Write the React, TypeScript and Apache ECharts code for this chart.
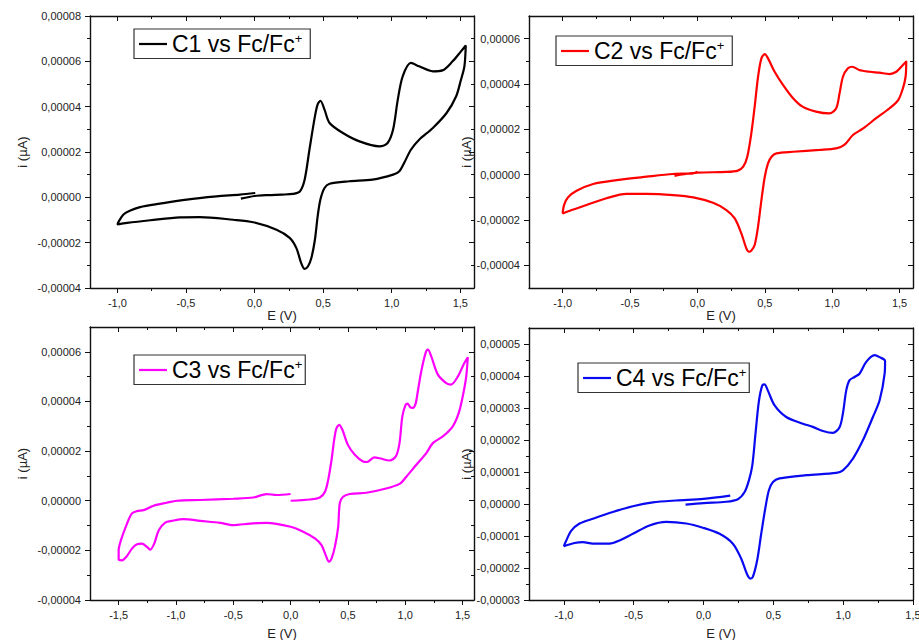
import React, { useEffect, useRef } from "react";
import * as echarts from "echarts";

// Potential E (V) and current i (in units of 1e-5 A)
const c1Scan: [number, number][] = [
  [-0.1, -0.06], [0.0, 0.06], [0.1, 0.1], [0.2, 0.12], [0.28, 0.15], [0.33, 0.26], [0.365, 0.78], [0.4, 2.1],
  [0.44, 3.57], [0.46, 4.1], [0.48, 4.26], [0.51, 3.87], [0.547, 3.28], [0.644, 2.84], [0.765, 2.47], [0.91, 2.25],
  [0.97, 2.4], [1.01, 2.99], [1.044, 4.3], [1.08, 5.34], [1.14, 5.93], [1.2, 5.78], [1.3, 5.56], [1.37, 5.6],
  [1.444, 6.0], [1.505, 6.44], [1.54, 6.7],
  [1.53, 5.78], [1.505, 5.19], [1.47, 4.46], [1.4, 3.72], [1.3, 3.06], [1.2, 2.54], [1.14, 2.1], [1.09, 1.51],
  [1.056, 1.15], [1.01, 1.0], [0.86, 0.78], [0.69, 0.71], [0.547, 0.6], [0.51, 0.41], [0.48, -0.1], [0.46, -0.84],
  [0.44, -1.87], [0.414, -2.68], [0.39, -3.04], [0.365, -3.16], [0.34, -2.9], [0.305, -2.24], [0.256, -1.79],
  [0.16, -1.43], [-0.01, -1.1], [-0.156, -0.99], [-0.4, -0.87], [-0.544, -0.88], [-0.76, -1.01], [-0.93, -1.13],
  [-1.0, -1.2],
  [-0.99, -1.06], [-0.956, -0.76], [-0.91, -0.59], [-0.835, -0.43], [-0.69, -0.28], [-0.495, -0.1], [-0.277, 0.04],
  [-0.107, 0.12], [0.005, 0.19],
];

const c2Scan: [number, number][] = [
  [-0.17, -0.05], [-0.1, 0.02], [0.0, 0.09], [0.215, 0.12], [0.3, 0.18], [0.34, 0.35], [0.37, 0.79], [0.4, 1.82],
  [0.425, 3.0], [0.45, 4.32], [0.475, 5.13], [0.5, 5.32], [0.524, 5.13], [0.573, 4.54], [0.635, 3.96], [0.71, 3.37],
  [0.78, 3.0], [0.88, 2.78], [0.98, 2.7], [1.03, 2.93], [1.055, 3.59], [1.08, 4.32], [1.117, 4.69], [1.15, 4.76],
  [1.2, 4.62], [1.28, 4.54], [1.35, 4.5], [1.426, 4.44], [1.476, 4.54], [1.525, 4.84], [1.55, 4.99],
  [1.545, 4.32], [1.525, 3.81], [1.49, 3.29], [1.426, 2.93], [1.327, 2.49], [1.23, 2.04], [1.154, 1.75], [1.09, 1.31],
  [1.03, 1.16], [0.907, 1.09], [0.71, 1.01], [0.586, 0.94], [0.55, 0.79], [0.524, 0.5], [0.5, -0.09], [0.475, -1.12],
  [0.45, -2.29], [0.425, -3.1], [0.4, -3.35], [0.383, -3.4], [0.363, -3.25], [0.326, -2.59], [0.277, -1.93],
  [0.215, -1.56], [0.116, -1.24], [-0.03, -1.0], [-0.18, -0.9], [-0.378, -0.85], [-0.526, -0.85], [-0.675, -1.04],
  [-0.823, -1.34], [-0.947, -1.59], [-1.0, -1.71],
  [-0.99, -1.34], [-0.96, -1.0], [-0.897, -0.71], [-0.774, -0.41], [-0.6, -0.24], [-0.378, -0.09], [-0.18, 0.03],
  [-0.03, 0.06], [0.0, 0.13],
];

const c3Scan: [number, number][] = [
  [0.0, 0.0], [0.168, 0.05], [0.255, 0.13], [0.3, 0.36], [0.328, 0.84], [0.357, 1.64], [0.38, 2.45], [0.4, 2.92],
  [0.424, 3.06], [0.452, 2.86], [0.5, 2.25], [0.56, 1.85], [0.632, 1.58], [0.668, 1.56], [0.73, 1.75], [0.777, 1.71],
  [0.864, 1.62], [0.92, 1.8], [0.95, 2.32], [0.975, 3.4], [1.004, 3.87], [1.02, 3.91], [1.045, 3.76], [1.067, 3.74],
  [1.09, 3.9], [1.11, 4.41], [1.14, 5.22], [1.178, 5.96], [1.198, 6.09], [1.227, 5.82], [1.285, 5.08], [1.358, 4.74],
  [1.4, 4.68], [1.46, 5.01], [1.509, 5.49], [1.546, 5.78],
  [1.532, 5.0], [1.502, 4.21], [1.467, 3.54], [1.415, 3.0], [1.328, 2.59], [1.241, 2.32], [1.184, 1.92],
  [1.097, 1.45], [1.01, 0.97], [0.951, 0.68], [0.806, 0.46], [0.661, 0.32], [0.516, 0.27], [0.458, 0.16],
  [0.429, -0.1], [0.415, -1.05], [0.386, -1.86], [0.357, -2.33], [0.334, -2.45], [0.307, -2.2], [0.27, -1.79],
  [0.212, -1.52], [0.11, -1.25], [0.0, -1.05], [-0.209, -0.89], [-0.354, -0.92], [-0.5, -0.98], [-0.615, -0.89],
  [-0.789, -0.81], [-0.934, -0.74], [-1.036, -0.81], [-1.094, -0.88], [-1.15, -1.19], [-1.19, -1.73],
  [-1.224, -1.97], [-1.253, -1.86], [-1.297, -1.73], [-1.34, -1.75], [-1.384, -1.93], [-1.433, -2.26],
  [-1.47, -2.4], [-1.5, -2.37],
  [-1.5, -2.0], [-1.48, -1.59], [-1.427, -0.92], [-1.384, -0.51], [-1.34, -0.42], [-1.282, -0.38], [-1.195, -0.2],
  [-1.08, -0.08], [-0.992, 0.0], [-0.789, 0.03], [-0.5, 0.08], [-0.325, 0.13], [-0.209, 0.27], [-0.122, 0.23],
  [0.0, 0.27],
];

const c4Scan: [number, number][] = [
  [-0.129, -0.02], [0.0, 0.03], [0.162, 0.07], [0.246, 0.15], [0.294, 0.375], [0.325, 0.74], [0.349, 1.2],
  [0.372, 2.2], [0.396, 3.2], [0.42, 3.7], [0.437, 3.74], [0.46, 3.55], [0.509, 3.08], [0.592, 2.72], [0.712, 2.51],
  [0.783, 2.41], [0.855, 2.28], [0.926, 2.22], [0.974, 2.4], [0.998, 2.83], [1.022, 3.55], [1.046, 3.87],
  [1.082, 3.97], [1.117, 4.07], [1.165, 4.44], [1.225, 4.65], [1.26, 4.59], [1.3, 4.47],
  [1.297, 4.08], [1.261, 3.24], [1.213, 2.72], [1.141, 1.99], [1.07, 1.42], [0.998, 1.05], [0.95, 0.97],
  [0.736, 0.9], [0.544, 0.8], [0.497, 0.69], [0.468, 0.43], [0.444, -0.09], [0.413, -0.93], [0.384, -1.76],
  [0.353, -2.28], [0.334, -2.33], [0.31, -2.18], [0.27, -1.71], [0.21, -1.24], [0.115, -0.93], [-0.005, -0.74],
  [-0.124, -0.61], [-0.267, -0.56], [-0.387, -0.67], [-0.506, -0.93], [-0.602, -1.14], [-0.673, -1.24],
  [-0.793, -1.24], [-0.864, -1.19], [-0.924, -1.22], [-1.0, -1.32],
  [-0.988, -1.19], [-0.948, -0.84], [-0.888, -0.61], [-0.793, -0.46], [-0.65, -0.25], [-0.506, -0.07],
  [-0.363, 0.05], [-0.196, 0.11], [0.0, 0.16], [0.191, 0.26],
];

const CURRENT_UNIT = 1e-5;

const seriesNames = ["C1 vs Fc/Fc+", "C2 vs Fc/Fc+", "C3 vs Fc/Fc+", "C4 vs Fc/Fc+"];

// Axis ranges and tick values
const xRange1: [number, number] = [-1.2, 1.6];
const xRange2: [number, number] = [-1.25, 1.6];
const xRange3: [number, number] = [-1.75, 1.6];
const xRange4: [number, number] = [-1.25, 1.5];
const xMajor = [-1.0, -0.5, 0.0, 0.5, 1.0, 1.5];
const xMajor3 = [-1.5, -1.0, -0.5, 0.0, 0.5, 1.0, 1.5];
const xMinor = [-0.75, -0.25, 0.25, 0.75, 1.25];
const xMinor3 = [-1.25, -0.75, -0.25, 0.25, 0.75, 1.25];

const yRange1: [number, number] = [-4e-5, 8e-5];
const yRange2: [number, number] = [-5e-5, 7e-5];
const yRange3: [number, number] = [-4e-5, 7e-5];
const yRange4: [number, number] = [-3e-5, 5.5e-5];
const yMajor1 = [-4e-5, -2e-5, 0, 2e-5, 4e-5, 6e-5, 8e-5];
const yMinor1 = [-3e-5, -1e-5, 1e-5, 3e-5, 5e-5, 7e-5];
const yMajor2 = [-4e-5, -2e-5, 0, 2e-5, 4e-5, 6e-5];
const yMinor2 = [-3e-5, -1e-5, 1e-5, 3e-5, 5e-5];
const yMajor4 = [-3e-5, -2e-5, -1e-5, 0, 1e-5, 2e-5, 3e-5, 4e-5, 5e-5];
const yMinor4 = [-2.5e-5, -1.5e-5, -0.5e-5, 0.5e-5, 1.5e-5, 2.5e-5, 3.5e-5, 4.5e-5];

const FONT = '"Liberation Sans", Arial, sans-serif';

const panels = [
  {
    scan: c1Scan, name: seriesNames[0], color: "#000000",
    xRange: xRange1, xMajor, xMinor, yRange: yRange1, yMajor: yMajor1, yMinor: yMinor1,
    grid: { left: 90, top: 16, width: 384, height: 272 },
    legend: { left: 134, top: 29, padRight: 8 }, xNameGap: 20, yNameGap: 61,
  },
  {
    scan: c2Scan, name: seriesNames[1], color: "#ff0000",
    xRange: xRange2, xMajor, xMinor, yRange: yRange2, yMajor: yMajor2, yMinor: yMinor2,
    grid: { left: 529, top: 16, width: 384, height: 272 },
    legend: { left: 556, top: 36, padRight: 8 }, xNameGap: 20, yNameGap: 56,
  },
  {
    scan: c3Scan, name: seriesNames[2], color: "#ff00ff",
    xRange: xRange3, xMajor: xMajor3, xMinor: xMinor3, yRange: yRange3, yMajor: yMajor2, yMinor: yMinor2,
    grid: { left: 90, top: 327, width: 384, height: 273 },
    legend: { left: 134, top: 355, padRight: 3 }, xNameGap: 27, yNameGap: 61,
  },
  {
    scan: c4Scan, name: seriesNames[3], color: "#0a0af0",
    xRange: xRange4, xMajor, xMinor, yRange: yRange4, yMajor: yMajor4, yMinor: yMinor4,
    grid: { left: 529, top: 328, width: 384, height: 272 },
    legend: { left: 578, top: 363, padRight: 3 }, xNameGap: 27, yNameGap: 56,
  },
];

const fmtX = (v: number) => (Math.abs(v) < 1e-9 ? 0 : v).toFixed(1).replace(".", ",");
const fmtY = (v: number) => (Math.abs(v) < 1e-12 ? 0 : v).toFixed(5).replace(".", ",");

const frameLine = { color: "#111", width: 1.4 };
const tickLine = { color: "#111", width: 1 };
const labelStyle = { fontSize: 11, color: "#222", fontFamily: FONT };
const nameStyle = { fontSize: 13, color: "#222", fontFamily: FONT };

function buildAxes(dim: "x" | "y", p: any, gi: number) {
  const isX = dim === "x";
  const range = isX ? p.xRange : p.yRange;
  const major = isX ? p.xMajor : p.yMajor;
  const minor = isX ? p.xMinor : p.yMinor;
  const outer = isX ? "bottom" : "left";
  const inner = isX ? "top" : "right";
  const base = {
    type: "value",
    gridIndex: gi,
    min: range[0],
    max: range[1],
    splitLine: { show: false },
    minorTick: { show: false },
    minorSplitLine: { show: false },
    axisPointer: { show: false },
  };
  return [
    {
      ...base,
      position: outer,
      axisLine: { show: true, onZero: false, lineStyle: frameLine },
      axisTick: { show: true, inside: false, length: 5, customValues: major, lineStyle: tickLine },
      axisLabel: { show: true, customValues: major, formatter: isX ? fmtX : fmtY, margin: 9, ...labelStyle },
      name: isX ? "E (V)" : "i (µA)",
      nameLocation: "middle",
      nameGap: isX ? p.xNameGap : p.yNameGap,
      nameTextStyle: nameStyle,
    },
    {
      ...base,
      position: outer,
      axisLine: { show: false, onZero: false },
      axisTick: { show: true, inside: false, length: 3, customValues: minor, lineStyle: tickLine },
      axisLabel: { show: false },
    },
    {
      ...base,
      position: inner,
      axisLine: { show: true, onZero: false, lineStyle: frameLine },
      axisTick: { show: true, inside: true, length: 5, customValues: major, lineStyle: tickLine },
      axisLabel: { show: false },
    },
    {
      ...base,
      position: inner,
      axisLine: { show: false, onZero: false },
      axisTick: { show: true, inside: true, length: 3, customValues: minor, lineStyle: tickLine },
      axisLabel: { show: false },
    },
  ];
}

function buildOption() {
  const grid: any[] = [];
  const xAxis: any[] = [];
  const yAxis: any[] = [];
  const series: any[] = [];
  const legend: any[] = [];
  panels.forEach((p, i) => {
    grid.push({ ...p.grid, containLabel: false, outerBoundsMode: "none", show: false });
    xAxis.push(...buildAxes("x", p, i));
    yAxis.push(...buildAxes("y", p, i));
    series.push({
      type: "line",
      name: p.name,
      xAxisIndex: i * 4,
      yAxisIndex: i * 4,
      data: p.scan.map(([e, c]) => [e, c * CURRENT_UNIT]),
      symbol: "none",
      showSymbol: false,
      smooth: 0.3,
      lineStyle: { color: p.color, width: 2.2 },
      itemStyle: { color: p.color },
      emphasis: { disabled: true },
    });
    legend.push({
      data: [{ name: p.name, icon: "rect" }],
      left: p.legend.left,
      top: p.legend.top,
      orient: "horizontal",
      backgroundColor: "#fff",
      borderColor: "#333",
      borderWidth: 1.2,
      borderRadius: 0,
      padding: [3, p.legend.padRight, 3, 5],
      itemWidth: 28,
      itemHeight: 2.2,
      selectedMode: false,
      formatter: (n: string) => `{b|${n.slice(0, -1)}}{sup|+}`,
      textStyle: {
        fontFamily: FONT,
        fontSize: 23,
        color: "#000",
        rich: {
          b: { fontSize: 23, color: "#000", fontFamily: FONT, lineHeight: 24 },
          sup: { fontSize: 13, color: "#000", fontFamily: FONT, verticalAlign: "top", lineHeight: 14 },
        },
      },
    });
  });
  return {
    animation: false,
    backgroundColor: "#ffffff",
    textStyle: { fontFamily: FONT },
    grid,
    xAxis,
    yAxis,
    series,
    legend,
  };
}

export default function App() {
  const ref = useRef<HTMLDivElement>(null);
  useEffect(() => {
    if (!ref.current) return;
    const chart = echarts.init(ref.current, null, { renderer: "svg" });
    chart.setOption(buildOption() as any);
    return () => chart.dispose();
  }, []);
  return (
    <div
      ref={ref}
      style={{ position: "absolute", left: 0, top: 0, width: 919, height: 640, background: "#fff" }}
    />
  );
}
